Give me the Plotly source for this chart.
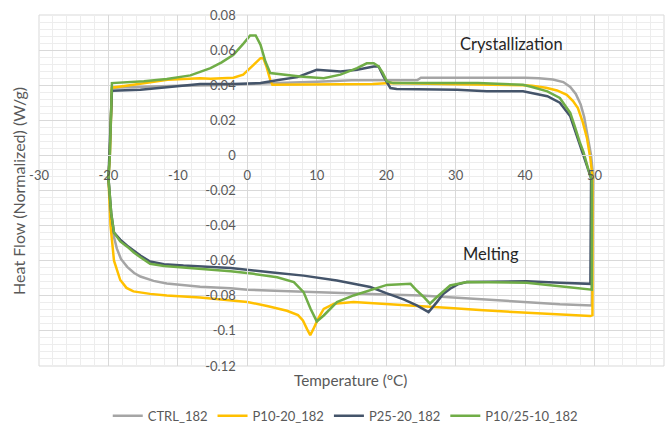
import plotly.graph_objects as go

# DSC heat-flow loops: heating -20 -> 50 °C (melting), then cooling 50 -> -20 °C (crystallization)
ctrl_T = [-20, -19.7, -19.3, -18.8, -18.2, -17.3, -16.3, -15.4, -13.5, -11.6, -9, -6.8, -2.4, 0, 5, 10,
          15, 20, 25, 30, 35, 40, 45, 49.6,
          49.8, 49.5, 49.0, 48.5, 48.0, 47.3, 46.5, 45.5, 44, 42, 40, 25, 24.5, 15, 10, 5, 0, -5, -10,
          -15, -19.5, -19.8, -20]
ctrl_HF = [-0.013, -0.032, -0.045, -0.053, -0.059, -0.0635, -0.067, -0.069, -0.0715, -0.073, -0.074,
           -0.0748, -0.0757, -0.0765, -0.0772, -0.078, -0.0785, -0.0792, -0.0798, -0.081, -0.0825,
           -0.0838, -0.0848, -0.0855,
           -0.012, 0.0, 0.012, 0.022, 0.029, 0.035, 0.039, 0.0418, 0.0432, 0.044, 0.0443, 0.0443, 0.043,
           0.0428, 0.042, 0.0413, 0.0405, 0.040, 0.0397, 0.039, 0.0385, 0.0, -0.013]

p1020_T = [-20, -19.7, -19.2, -18.3, -17.4, -16.4, -14, -11.6, -6.8, -4, 0, 3, 5.7, 7.3, 8, 8.6, 9.06,
           9.5, 10.2, 11, 12.5, 15.3, 19.1, 22, 29.2, 34, 41.2, 47.4, 49.4, 49.7,
           49.7, 49.4, 48.9, 48.3, 47.6, 46.9, 46, 44.6, 43, 41, 39.7, 30, 22, 20.6, 18.1, 10, 5, 3.6,
           3.3, 2.8, 2.3, 1.9, 0.9, -0.6, -2, -5.3, -6.8, -11.5, -16.4, -19.5, -19.8, -20]
p1020_HF = [-0.013, -0.04, -0.060, -0.071, -0.0755, -0.0775, -0.0789, -0.0798, -0.081, -0.082, -0.0835,
            -0.086, -0.0885, -0.091, -0.094, -0.099, -0.1025, -0.099, -0.093, -0.0875, -0.0845, -0.0836,
            -0.0845, -0.085, -0.087, -0.0883, -0.0896, -0.091, -0.0915, -0.091,
            -0.012, -0.002, 0.010, 0.019, 0.027, 0.031, 0.0345, 0.037, 0.0385, 0.0397, 0.040, 0.0405,
            0.041, 0.0412, 0.0407, 0.0405, 0.0403, 0.0403, 0.043, 0.050, 0.0554, 0.0554, 0.0516, 0.046,
            0.0443, 0.0437, 0.044, 0.0431, 0.0403, 0.0386, 0.0, -0.013]

p2520_T = [-20, -19.6, -19.2, -18.3, -17.3, -16.3, -15.4, -14, -12, -9.2, -2.4, 3.3, 8.1, 12.9, 17.7,
           20, 22.5, 24.4, 26.1, 27.3, 28.2, 29.2, 30.3, 31.6, 40.2, 45, 49.4,
           49.5, 48.9, 47.9, 46.5, 45, 43.2, 39.7, 34.5, 30.2, 21.5, 20.6, 19.6, 18.9, 18.2, 15.8, 13.4,
           10, 7.2, 4.7, 1.9, -2, -6.8, -11.6, -15.4, -19.5, -19.8, -20]
p2520_HF = [-0.013, -0.033, -0.044, -0.048, -0.0515, -0.0545, -0.0571, -0.0605, -0.062, -0.0628, -0.0641,
            -0.0666, -0.0685, -0.0713, -0.075, -0.0785, -0.082, -0.0855, -0.0893, -0.0836, -0.079,
            -0.076, -0.0735, -0.0722, -0.0717, -0.0726, -0.0732,
            -0.013, -0.006, 0.0053, 0.0223, 0.030, 0.0337, 0.0365, 0.0365, 0.0374, 0.0378, 0.0384,
            0.045, 0.0507, 0.0507, 0.0488, 0.0478, 0.0488, 0.0446, 0.0431, 0.0412, 0.0407, 0.0407,
            0.0388, 0.0374, 0.0369, 0.0, -0.013]

p102510_T = [-20, -19.6, -19.2, -18.3, -17.3, -16.3, -15.4, -14, -12, -9.2, -2.4, 0.9, 4.3, 6.7, 8.1,
             9.1, 10, 11, 12.9, 15.3, 17.7, 20.1, 23.5, 24.4, 25.5, 26.3, 27.3, 29.2, 31.6, 40.2, 45,
             49.1, 49.6,
             49.6, 49.1, 48.4, 47.9, 47.2, 46.5, 45, 43.2, 41, 39.7, 33.2, 21, 20.1, 19.5, 18.9, 18.2,
             17.2, 15.8, 13.4, 11, 7.6, 5.7, 3.3, 2.6, 1.9, 1.2, 0.4, -0.5, -2, -3.7, -5.3, -8.2, -11.6,
             -14.9, -19.3, -19.5, -19.8, -20]
p102510_HF = [-0.013, -0.033, -0.044, -0.049, -0.052, -0.0555, -0.058, -0.0618, -0.063, -0.0638, -0.066,
              -0.0675, -0.0694, -0.0722, -0.0779, -0.0874, -0.0946, -0.0912, -0.0836, -0.0798, -0.077,
              -0.0738, -0.0732, -0.077, -0.081, -0.0845, -0.0807, -0.0741, -0.0722, -0.0726, -0.0745,
              -0.076, -0.0765,
              -0.014, -0.008, 0.002, 0.0072, 0.016, 0.0242, 0.0327, 0.0365, 0.039, 0.0403, 0.0412,
              0.0412, 0.0422, 0.047, 0.0507, 0.0525, 0.0525, 0.0497, 0.046, 0.044, 0.045, 0.046, 0.0469,
              0.0535, 0.063, 0.0683, 0.0683, 0.064, 0.0573, 0.053, 0.0497, 0.0456, 0.0435, 0.0422,
              0.0412, 0.0412, 0.0, -0.013]

series_names = ["CTRL_182", "P10-20_182", "P25-20_182", "P10/25-10_182"]
series_T = [ctrl_T, p1020_T, p2520_T, p102510_T]
series_HF = [ctrl_HF, p1020_HF, p2520_HF, p102510_HF]
series_colors = ["#A5A5A5", "#FFC000", "#44546A", "#70AD47"]

x_ticks = [-30, -20, -10, 0, 10, 20, 30, 40, 50, 60]
x_labels = ["-30", "-20", "-10", "0", "10", "20", "30", "40", "50", "60"]
y_ticks = [-0.12, -0.1, -0.08, -0.06, -0.04, -0.02, 0, 0.02, 0.04, 0.06, 0.08]
y_labels = ["-0.12", "-0.1", "-0.08", "-0.06", "-0.04", "-0.02", "0", "0.02", "0.04", "0.06", "0.08"]

FONT = "Lato"
TXT = "#595959"
GRID = "#D9D9D9"
MINOR = "#EDEDED"

fig = go.Figure()
for name, T, HF, color in zip(series_names, series_T, series_HF, series_colors):
    fig.add_trace(go.Scatter(x=T, y=HF, mode="lines", name=name,
                             line=dict(color=color, width=2.5)))

x_min, x_max = -30, 60
y_min, y_max = -0.12, 0.08

fig.update_layout(
    width=668, height=435,
    margin=dict(l=39, r=4, t=15, b=67),
    paper_bgcolor="white", plot_bgcolor="white",
    font=dict(family=FONT, size=13, color=TXT),
    xaxis=dict(range=[x_min, x_max], tickmode="array", tickvals=x_ticks, ticktext=x_labels,
               showgrid=True, gridcolor=GRID, gridwidth=1, zeroline=False,
               showline=True, linecolor=GRID, linewidth=1,
               anchor="free", position=(0 - y_min) / (y_max - y_min),
               ticks="", ticklabelstandoff=8,
               tickfont=dict(family=FONT, size=13, color=TXT),
               minor=dict(tick0=-30, dtick=2, showgrid=True, gridcolor=MINOR, gridwidth=1)),
    yaxis=dict(range=[y_min, y_max], tickmode="array", tickvals=y_ticks, ticktext=y_labels,
               showgrid=True, gridcolor=GRID, gridwidth=1, zeroline=False,
               showline=True, linecolor=GRID, linewidth=1,
               anchor="free", position=(0 - x_min) / (x_max - x_min),
               ticks="", ticklabelstandoff=9,
               tickfont=dict(family=FONT, size=13, color=TXT),
               minor=dict(tick0=-0.12, dtick=0.004, showgrid=True, gridcolor=MINOR, gridwidth=1)),
    legend=dict(orientation="h", x=0.49, xanchor="center", y=-0.142, yanchor="middle",
                font=dict(family=FONT, size=13, color=TXT), itemwidth=30,
                bgcolor="rgba(0,0,0,0)"),
    shapes=[dict(type="rect", xref="paper", yref="paper", x0=0, y0=0, x1=1, y1=1,
                 line=dict(color=GRID, width=1), layer="below")],
    annotations=[
        dict(text="Crystallization", x=38.1, y=0.0636, xref="x", yref="y", showarrow=False,
             xanchor="center", yanchor="middle",
             font=dict(family=FONT, size=16.5, color="#262626")),
        dict(text="Melting", x=35.1, y=-0.056, xref="x", yref="y", showarrow=False,
             xanchor="center", yanchor="middle",
             font=dict(family=FONT, size=16.5, color="#262626")),
        dict(text="Heat Flow (Normalized) (W/g)", x=-0.033, y=0.5, xref="paper", yref="paper",
             xanchor="center", yanchor="middle",
             textangle=-90, showarrow=False, font=dict(family=FONT, size=16, color=TXT)),
        dict(text="Temperature (°C)", x=0.498, y=-0.04, xref="paper", yref="paper",
             xanchor="center", yanchor="middle",
             showarrow=False, font=dict(family=FONT, size=15.3, color=TXT)),
    ],
)

fig.write_html("out.html")
